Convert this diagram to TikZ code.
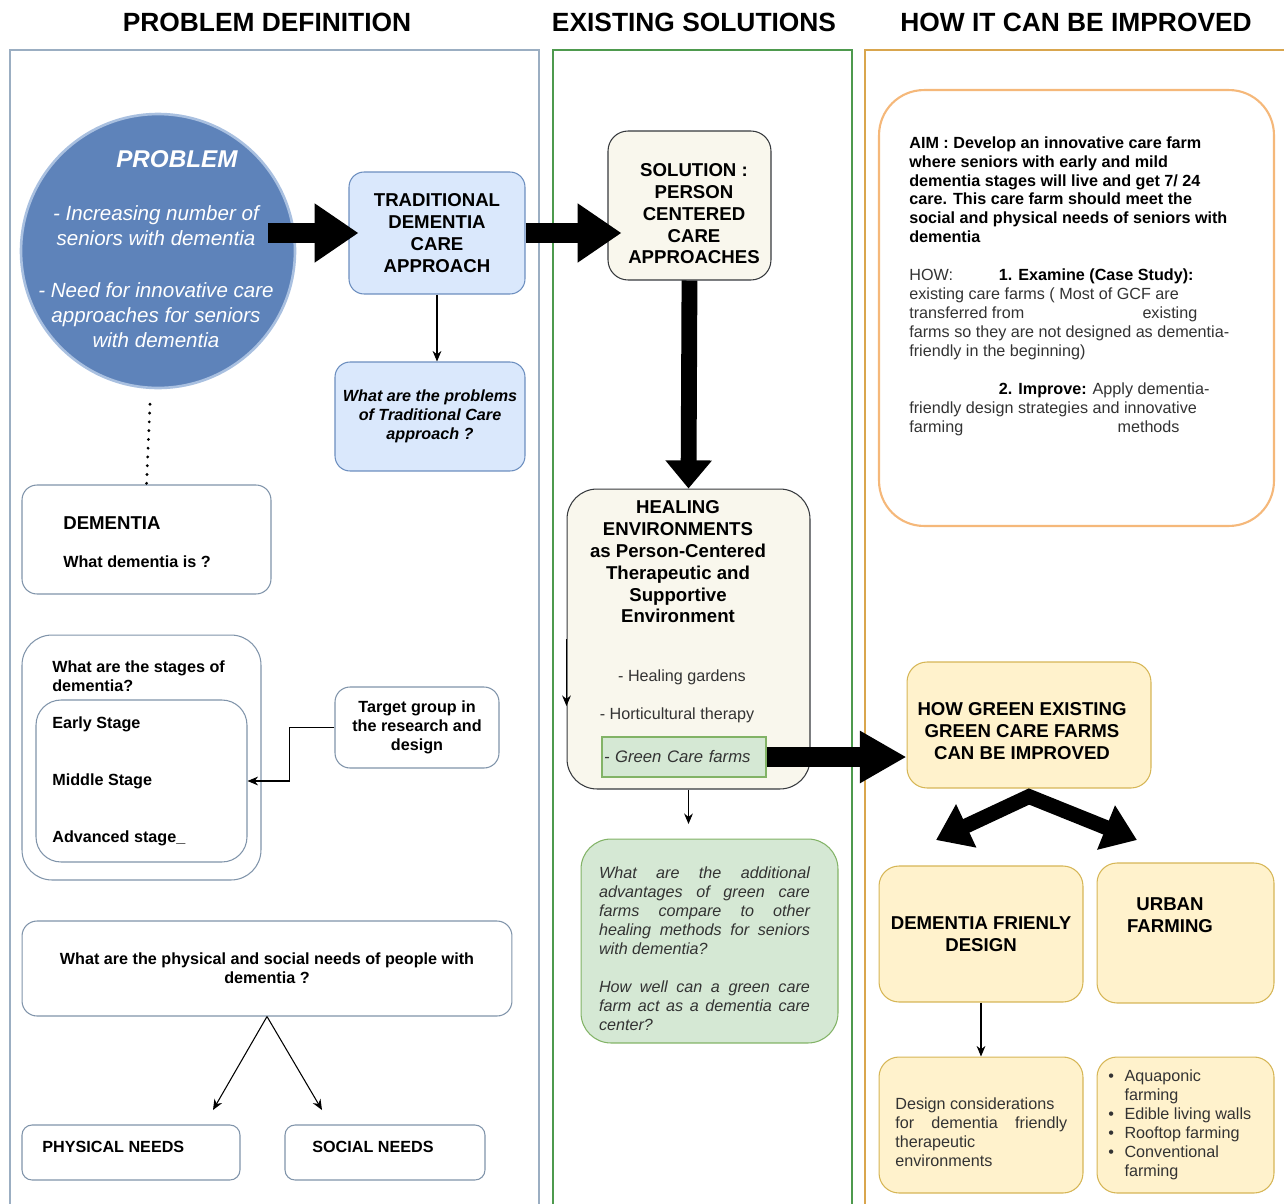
\documentclass[tikz,border=0pt]{standalone}
\usepackage{fontspec}
\setmainfont{Liberation Sans}
\usetikzlibrary{arrows.meta,calc}

\definecolor{colblue}{HTML}{9BAEC2}
\definecolor{colgreen}{HTML}{4E9A4E}
\definecolor{colorange}{HTML}{D9A64E}
\definecolor{probfill}{HTML}{5E83BA}
\definecolor{probdraw}{HTML}{A9C0E0}
\definecolor{bluefill}{HTML}{DAE8FC}
\definecolor{bluedraw}{HTML}{6C8EBF}
\definecolor{creamfill}{HTML}{F9F7ED}
\definecolor{creamdraw}{HTML}{36393D}
\definecolor{greenfill}{HTML}{D5E8D4}
\definecolor{greendraw}{HTML}{82B366}
\definecolor{yelfill}{HTML}{FFF2CC}
\definecolor{yeldraw}{HTML}{D6B656}
\definecolor{aimdraw}{HTML}{F5B87A}
\definecolor{greydraw}{HTML}{8094AA}
\definecolor{textgray}{HTML}{333333}

\newcommand{\hdfont}{\fontsize{15}{18}\selectfont\bfseries}
\newcommand{\capfont}{\fontsize{10.6}{12.4}\selectfont\bfseries}
\newcommand{\txtfont}{\fontsize{9.2}{10.8}\selectfont}
\newcommand{\bk}[1]{{\color{black}\bfseries #1}}

\tikzset{
  rbox/.style={draw, line width=0.6pt, rounded corners=0.3cm, inner sep=0pt, align=center},
  bluebox/.style={rbox, fill=bluefill, draw=bluedraw},
  creambox/.style={rbox, fill=creamfill, draw=creamdraw},
  greenbox/.style={rbox, fill=greenfill, draw=greendraw},
  yelbox/.style={rbox, fill=yelfill, draw=yeldraw, rounded corners=0.4cm},
  whitebox/.style={rbox, fill=white, draw=greydraw},
  head/.style={inner sep=0pt, font=\hdfont},
  plain/.style={inner sep=0pt, anchor=west, align=left},
  bigarrow/.style={line width=11.3pt, -{Triangle[length=25pt,width=32pt]}},
  thinarrow/.style={line width=0.6pt, -{Stealth[length=6pt,width=5pt]}},
}

\begin{document}
\begin{tikzpicture}[x=0.02cm,y=-0.02cm]
\useasboundingbox (0,0) rectangle (1284,1203);

\draw[colblue, line width=0.8pt] (10,50) rectangle (539,1230);
\draw[colgreen, line width=0.8pt] (553,50) rectangle (852,1230);
\draw[colorange, line width=0.8pt] (865,50) rectangle (1300,1230);
\node[head] (hprob) at (267,22) {PROBLEM DEFINITION};
\node[head] (hsol) at (694,22) {EXISTING SOLUTIONS};
\node[head] (himp) at (1076,22) {HOW IT CAN BE IMPROVED};

% problem definition
\node[circle, fill=probfill, draw=probdraw, line width=1.5pt, minimum size=5.48cm, inner sep=0pt] (prob) at (158,251) {};
\node[inner sep=0pt, text=white, align=center, font=\fontsize{11.7}{14.2}\selectfont\itshape] (probt) at (156,249)
  {\hspace*{23.8pt}\fontsize{13.8}{16}\selectfont\bfseries PROBLEM\\[16.4pt]
   - Increasing number of\\seniors with dementia\\[15.3pt]
   - Need for innovative care\\approaches for seniors\\with dementia};
\node[bluebox, minimum width=3.52cm, minimum height=2.44cm, font=\capfont] (trad) at (437,233)
  {TRADITIONAL\\DEMENTIA\\CARE\\APPROACH};
\node[bluebox, minimum width=3.8cm, minimum height=2.18cm, font=\txtfont\bfseries\itshape] (probq) at (430,416.5)
  {What are the problems\\of Traditional Care\\approach ?};
\node[whitebox, minimum width=4.98cm, minimum height=2.18cm] (dem) at (146.5,539.5) {};
\node[plain, font=\capfont] (demtitle) at (63,523) {DEMENTIA};
\node[plain, font=\txtfont\bfseries] (demq) at (63,562) {What dementia is ?};
\node[whitebox, rounded corners=0.6cm, minimum width=4.78cm, minimum height=4.9cm] (stage) at (141.5,757.5) {};
\node[plain, font=\txtfont\bfseries] (stageq) at (52,676.5) {What are the stages of\\dementia?};
\node[whitebox, rounded corners=0.5cm, minimum width=4.22cm, minimum height=3.24cm] (stagein) at (141.5,781) {};
\node[plain, font=\txtfont\bfseries] (early) at (52,724) {Early Stage};
\node[plain, font=\txtfont\bfseries] (middle) at (52,781) {Middle Stage};
\node[plain, font=\txtfont\bfseries] (advanced) at (52,838) {Advanced stage\_};
\node[whitebox, minimum width=3.28cm, minimum height=1.62cm, font=\txtfont\bfseries] (target) at (417,727.5)
  {Target group in\\the research and\\design};
\node[whitebox, minimum width=9.8cm, minimum height=1.9cm, font=\txtfont\bfseries] (needs) at (267,968.5)
  {What are the physical and social needs of people with\\dementia ?};
\node[whitebox, rounded corners=0.2cm, minimum width=4.36cm, minimum height=1.1cm] (phys) at (131,1152.5) {};
\node[plain, font=\txtfont\bfseries] (physt) at (42,1147) {PHYSICAL NEEDS};
\node[whitebox, rounded corners=0.2cm, minimum width=4cm, minimum height=1.1cm] (soc) at (385,1152.5) {};
\node[plain, font=\txtfont\bfseries] (soct) at (312,1147) {SOCIAL NEEDS};
\coordinate (tphys) at (213,1110);
\coordinate (tsoc) at (322,1110);

% existing solutions
\node[creambox, rounded corners=0.4cm, minimum width=3.26cm, minimum height=2.98cm] (sol) at (689.5,205.5) {};
\node[inner sep=0pt, align=center, font=\capfont] (solt) at (694,214)
  {SOLUTION :\\PERSON\\CENTERED\\CARE\\APPROACHES};
\node[creambox, rounded corners=0.6cm, minimum width=4.86cm, minimum height=6cm] (heal) at (688.5,639) {};
\node[inner sep=0pt, align=center, font=\capfont] (healt) at (678,562)
  {HEALING\\ENVIRONMENTS\\as Person-Centered\\Therapeutic and\\Supportive\\Environment};
\node[inner sep=0pt, font=\txtfont, text=textgray] (garden) at (682,677) {- Healing gardens};
\node[inner sep=0pt, font=\txtfont, text=textgray] (horti) at (677,715) {- Horticultural therapy};
\node[draw=greendraw, fill=greenfill, line width=0.6pt, minimum height=0.8cm, text width=3.2cm,
      inner xsep=0.04cm, align=left, font=\fontsize{9.5}{11}\selectfont\itshape, text=textgray] (gcf) at (684,757)
  {- Green Care farms};
\coordinate (hside) at (566,706);
\coordinate (hq) at (688.5,824);
\node[greenbox, rounded corners=0.6cm, minimum width=5.14cm, minimum height=4.08cm] (gq) at (709.5,941) {};
\node[inner sep=0pt, text width=4.22cm, align=justify, font=\txtfont\itshape, text=textgray] (gqt) at (704.5,949)
  {\sloppy What are the additional\linebreak advantages of green care\linebreak farms compare to other\linebreak
   healing methods for seniors\linebreak with dementia?\\[10.8pt]
   How well can a green care\linebreak farm act as a dementia care\linebreak center?};

% how it can be improved
\node[draw=aimdraw, fill=white, line width=1.2pt, rounded corners=0.9cm, minimum width=7.9cm,
      minimum height=8.72cm, inner sep=0pt] (aim) at (1076.5,308) {};
\node[anchor=north west, inner sep=0pt, align=left, font=\txtfont, text=textgray] (aimt) at (909,136)
  {\bk{AIM : Develop an innovative care farm}\\
   \bk{where seniors with early and mild}\\
   \bk{dementia stages will live and get 7/ 24}\\
   \bk{care. This care farm should meet the}\\
   \bk{social and physical needs of seniors with}\\
   \bk{dementia}\\[10.8pt]
   \makebox[51pt][l]{HOW:}\bk{1. Examine (Case Study):}\\
   existing care farms ( Most of GCF are\\
   \makebox[132.7pt][l]{transferred from}existing\\
   farms so they are not designed as dementia-\\
   friendly in the beginning)\\[10.8pt]
   \hspace*{51pt}\bk{2. Improve:} Apply dementia-\\
   friendly design strategies and innovative\\
   \makebox[118.5pt][l]{farming}methods};
\node[yelbox, minimum width=4.88cm, minimum height=2.52cm] (hgreen) at (1029,725) {};
\node[inner sep=0pt, align=center, font=\capfont] (hgreent) at (1022,731)
  {HOW GREEN EXISTING\\GREEN CARE FARMS\\CAN BE IMPROVED};
\node[yelbox, minimum width=4.08cm, minimum height=2.72cm, font=\capfont] (dfd) at (981,934)
  {DEMENTIA FRIENLY\\DESIGN};
\node[yelbox, minimum width=3.54cm, minimum height=2.8cm] (urb) at (1185.5,933) {};
\node[inner sep=0pt, align=center, font=\capfont] (urbt) at (1170,915) {URBAN\\FARMING};
\node[yelbox, minimum width=4.08cm, minimum height=2.72cm] (dc) at (981,1125) {};
\node[inner sep=0pt, anchor=west, text width=3.44cm, align=justify, font=\txtfont, text=textgray] (dct) at (895,1132.5)
  {\sloppy Design considerations\\ for dementia friendly\linebreak therapeutic\\ environments};
\node[yelbox, minimum width=3.54cm, minimum height=2.72cm] (bul) at (1185.5,1125) {};
\node[plain, font=\txtfont, text=textgray] (bult) at (1108,1125.5)
  {\begin{tabular}{@{}l@{\hspace{6pt}}l@{}}
   \textbullet & Aquaponic\\ & farming\\ \textbullet & Edible living walls\\
   \textbullet & Rooftop farming\\ \textbullet & Conventional\\ & farming
   \end{tabular}};
\coordinate (ltip) at (936,840);
\coordinate (rtip) at (1137,840);

% connectors
\draw[bigarrow] ($(prob.east |- trad.west)+(-28,0)$) -- ($(trad.west)+(10,0)$);
\draw[bigarrow] (trad.east) -- ($(trad.east -| sol.west)+(14,0)$);
\draw[bigarrow, line width=9pt, -{Triangle[length=16pt,width=25.5pt]}] (sol.south) -- (heal.north);
\draw[bigarrow, -{Triangle[length=26.6pt,width=28pt]}] (gcf.east) -- (gcf.east -| hgreen.west);
\draw[line width=8.5pt, {Triangle[length=19pt,width=26pt]}-{Triangle[length=19pt,width=26pt]}]
  (ltip) -- ($(hgreen.south)+(0,8)$) -- (rtip);
\draw[line width=1.8pt, line cap=round, dash pattern=on 0pt off 5pt] ($(prob.south)+(-8,15)$) -- (dem.north);
\draw[thinarrow] (trad.south) -- (trad.south |- probq.north);
\draw[thinarrow] (target.west) -- ++(-45,0) |- (stagein.east);
\draw[thinarrow] (needs.south) -- (tphys);
\draw[thinarrow] (needs.south) -- (tsoc);
\draw[thinarrow] (heal.west) -- (heal.west |- hside);
\draw[thinarrow] (heal.south) -- (hq);
\draw[thinarrow] (dfd.south) -- (dc.north);
\end{tikzpicture}
\end{document}
